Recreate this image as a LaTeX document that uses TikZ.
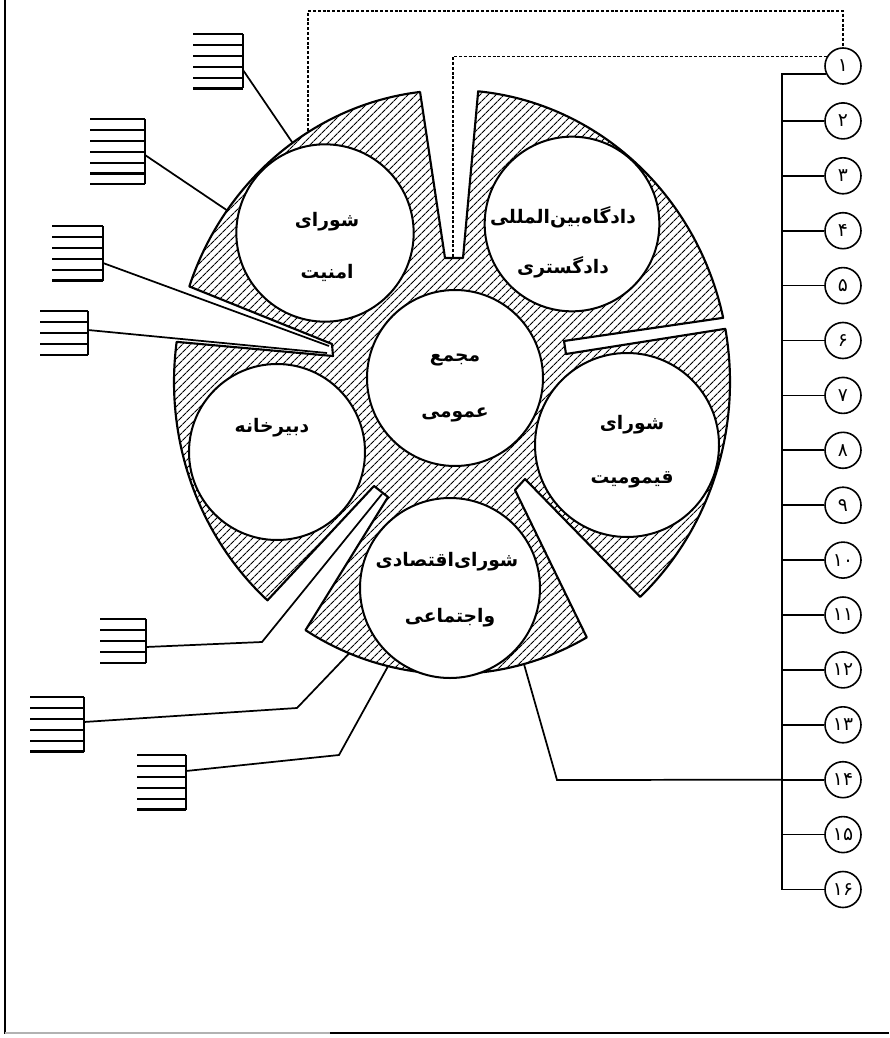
\documentclass[tikz,border=0pt]{standalone}
\usepackage{fontspec}
\newfontfamily\fa[Script=Arabic]{DejaVu Sans}
\TeXXeTstate=1
\usetikzlibrary{patterns.meta,calc}
\newcommand\stackbox[4]{%
  \foreach \k in {1,...,#4}{\draw[boxline] (#1,{#3+10.9*(\k-1)}) -- (#2,{#3+10.9*(\k-1)});}
  \draw[boxline] (#2,#3) -- (#2,{#3+10.9*(#4-1)});}
\begin{document}
\begin{tikzpicture}[x=0.75pt,y=-0.75pt,
  outl/.style={line width=1.6pt,line join=round},
  hatch/.style={pattern={Lines[angle=45,distance=4pt,line width=0.8pt]}},
  disk/.style={circle,draw,line width=1.5pt,fill=white,inner sep=0pt},
  num/.style={circle,draw,line width=1.2pt,minimum size=27pt,inner sep=0pt,font=\fa\fontsize{14}{14}\selectfont},
  lbl/.style={font=\fa\bfseries\fontsize{14}{14}\selectfont,inner sep=0pt},
  conn/.style={line width=1.3pt},
  boxline/.style={line width=1.6pt},
  dots/.style={line width=1.2pt,dash pattern=on 2.2pt off 1.4pt},
  ell/.style={x radius=278,y radius=292}]
\useasboundingbox (0,0) rectangle (889,1038);
% frame
\draw[line width=1.4pt] (5,0) -- (5,1034);
\draw[gray!60,line width=0.8pt] (5,1033) -- (330,1033);
\draw[line width=1.6pt] (330,1033) -- (889,1033);
% hatched body
\draw[outl,hatch] (463,258) -- ({452+278*cos(-84.6)},{382+292*sin(-84.6)}) arc[start angle=-84.6,end angle=-12.7,ell]
  -- (564,341) -- (566,354) -- ({452+278*cos(-10.5)},{382+292*sin(-10.5)}) arc[start angle=-10.5,end angle=47.4,ell]
  -- (525,479) -- (515,490) -- ({452+278*cos(61)},{382+292*sin(61)}) arc[start angle=61,end angle=121.8,ell]
  -- (388,497) -- (374,486) -- ({452+278*cos(131.6)},{382+292*sin(131.6)}) arc[start angle=131.6,end angle=187.9,ell]
  -- (333,356) -- (332,344) -- ({452+278*cos(199.1)},{382+292*sin(199.1)}) arc[start angle=199.1,end angle=263.4,ell]
  -- (445,258) -- cycle;
% circles
\node[disk,minimum size=133pt] (amn) at (325,233) {};
\node[disk,minimum size=131pt] (dad) at (572,224) {};
\node[disk,minimum size=132pt] (maj) at (455,378) {};
\node[disk,minimum size=138pt] (qay) at (627,445) {};
\node[disk,minimum size=132pt] (dab) at (277,452) {};
\node[disk,minimum size=135pt] (eqt) at (450,588) {};
% labels
\node[lbl] (tAm1) at (327,222) {\beginR شورای\endR};
\node[lbl] (tAm2) at (327,273) {\beginR امنیت\endR};
\node[lbl] (tDa1) at (563,217) {\beginR دادگاه‌بین‌المللی\endR};
\node[lbl] (tDa2) at (563,267) {\beginR دادگستری\endR};
\node[lbl] (tMa1) at (455,360) {\beginR مجمع\endR};
\node[lbl] (tMa2) at (455,415) {\beginR عمومی\endR};
\node[lbl] (tQa1) at (632,425) {\beginR شورای\endR};
\node[lbl] (tQa2) at (632,480) {\beginR قیمومیت\endR};
\node[lbl] (tDb) at (272,428) {\beginR دبیرخانه\endR};
\node[lbl] (tEq1) at (447,562) {\beginR شورای‌اقتصادی\endR};
\node[lbl] (tEq2) at (450,618) {\beginR واجتماعی\endR};
% numbered circles
\foreach \i/\d in {1/۱,2/۲,3/۳,4/۴,5/۵,6/۶,7/۷,8/۸,9/۹,10/۱۰,11/۱۱,12/۱۲,13/۱۳,14/۱۴,15/۱۵,16/۱۶}
  \node[num] (c\i) at (843,{66+54.9*(\i-1)}) {\d};
\coordinate (bus) at (782,0);
\draw[conn] (c1.205) -- (c1.205 -| bus) -- (c16.west -| bus) -- (c16.west);
\foreach \i in {2,...,15} \draw[conn] (c\i.west) -- (c\i.west -| bus);
% connector from circle 14 level to the bottom of the body
\coordinate (eb) at ({452+278*cos(75)},{382+292*sin(75)});
\coordinate (k14) at (557,780);
\draw[conn] (eb) -- (k14) -- (c14.west -| bus);
% dotted connectors to circle 1
\coordinate (n1b) at (453,257);
\coordinate (ea) at (308,131);
\draw[dots] (n1b) |- (c1.150);
\draw[dots] (ea) |- ($(c1.north)+(0,-36)$) -- (c1.north);
% stacked-line boxes
\stackbox{193}{243}{34}{6}
\stackbox{90}{145}{119}{7}
\stackbox{52}{103}{226}{6}
\stackbox{40}{88}{311}{5}
\stackbox{100}{146}{619}{5}
\stackbox{30}{84}{697}{6}
\stackbox{137}{186}{755}{6}
% box connectors
\coordinate (bA) at (243,70);  \coordinate (eA) at ({452+278*cos(235)},{382+292*sin(235)});
\coordinate (bB) at (145,155); \coordinate (eB) at ({452+278*cos(216)},{382+292*sin(216)});
\coordinate (bC) at (103,263); \coordinate (n3a) at (329,346);
\coordinate (bD) at (88,330);  \coordinate (n3b) at (327,353);
\coordinate (bE) at (146,647); \coordinate (kE) at (262,642); \coordinate (n4) at (382,494);
\coordinate (bF) at (84,722);  \coordinate (kF) at (297,708); \coordinate (eF) at ({452+278*cos(111.7)},{382+292*sin(111.7)});
\coordinate (bG) at (186,771); \coordinate (kG) at (339,755); \coordinate (eG) at ({452+278*cos(103.3)},{382+292*sin(103.3)});
\draw[conn] (bA) -- (eA);
\draw[conn] (bB) -- (eB);
\draw[conn] (bC) -- (n3a);
\draw[conn] (bD) -- (n3b);
\draw[conn] (bE) -- (kE) -- (n4);
\draw[conn] (bF) -- (kF) -- (eF);
\draw[conn] (bG) -- (kG) -- (eG);
\end{tikzpicture}
\end{document}
